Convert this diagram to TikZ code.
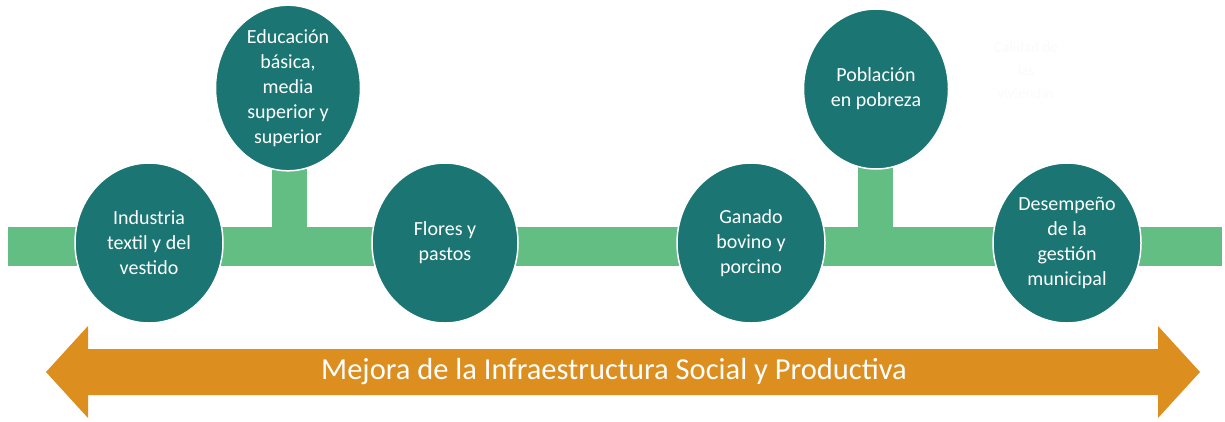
\documentclass[tikz,border=0pt]{standalone}
\usepackage{fontspec}
\setmainfont{Carlito}
\usetikzlibrary{shapes.geometric}
\definecolor{teal1}{RGB}{26,117,115}
\definecolor{barg}{RGB}{99,190,132}
\definecolor{orng}{RGB}{220,142,30}
\tikzset{
  circ/.style={ellipse, fill=teal1, draw=white, line width=1.5pt, minimum width=148pt, minimum height=160pt, inner sep=0pt, text=white, align=center, font=\fontsize{20}{25}\selectfont},
  stem/.style={draw=barg, line width=35pt, line cap=butt},
  bar/.style={fill=barg, minimum width=1214pt, minimum height=39pt, inner sep=0pt, outer sep=0pt}
}
\begin{document}
\begin{tikzpicture}[x=1pt,y=-1pt]
\useasboundingbox (0,0) rectangle (1225,421);
\node[bar] (bar) at (615,246.5) {};
\coordinate (s1) at (289.5,88);
\coordinate (s2) at (875.5,89);
\draw[stem] (s1) -- (s1 |- bar.center);
\draw[stem] (s2) -- (s2 |- bar.center);
\node[circ] (c1) at (149,243) {Industria\\textil y del\\vestido};
\node[circ, minimum width=145pt] (c2) at (288,88) {Educación\\básica,\\media\\superior y\\superior};
\node[circ, minimum width=146pt] (c3) at (445,243) {Flores y\\pastos};
\node[circ] (c4) at (751,243) {Ganado\\bovino y\\porcino};
\node[circ, minimum width=145pt] (c5) at (876,89) {Población\\en pobreza};
\node[circ] (c6) at (1067,243) {Desempeño\\de la\\gestión\\municipal};
\node[text=white!98!black, align=center, font=\fontsize{15}{23}\selectfont] (faint) at (1026,70) {Calidad de\\las\\viviendas};
\fill[orng] (46,372) -- (88,326) -- (88,349) -- (1158,349) -- (1158,326) -- (1200,372) -- (1158,418) -- (1158,395) -- (88,395) -- (88,418) -- cycle;
\node[text=white, font=\fontsize{30.5}{36}\selectfont, inner sep=0pt] (lbl) at (614,372) {Mejora de la Infraestructura Social y Productiva};
\end{tikzpicture}
\end{document}
